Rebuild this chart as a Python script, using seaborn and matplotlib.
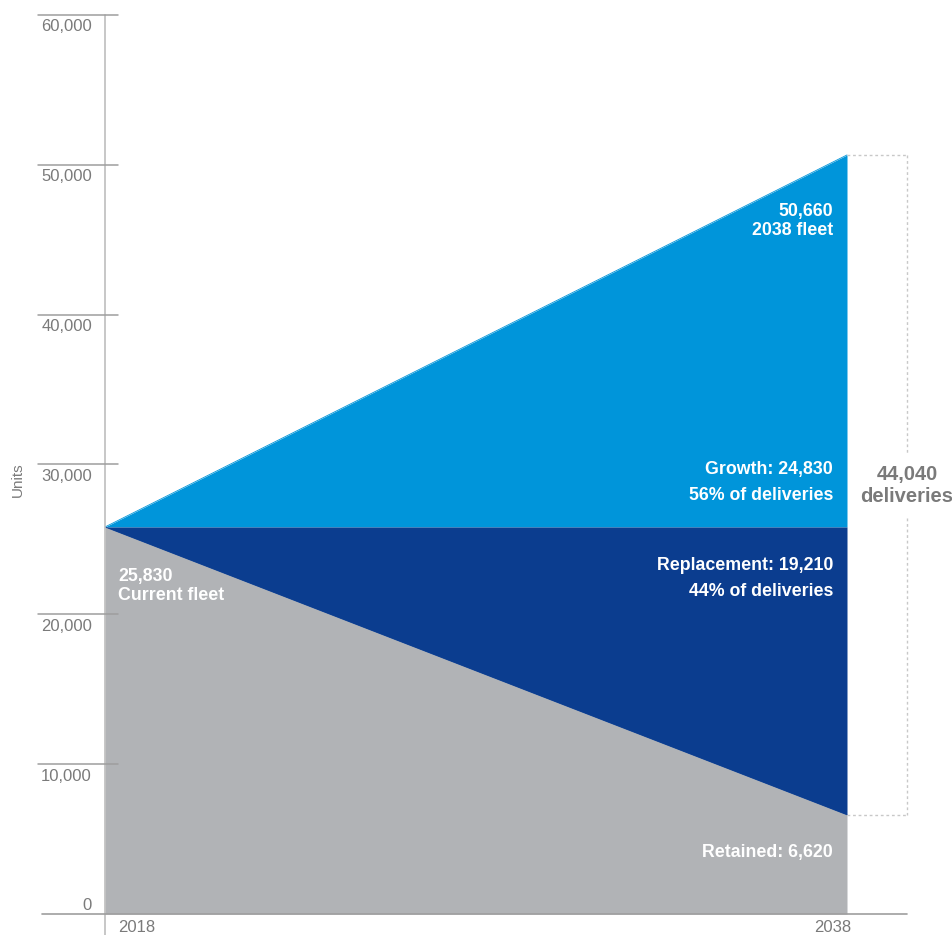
import matplotlib
matplotlib.use("Agg")
import matplotlib.pyplot as plt
import seaborn as sns
import pandas as pd

# -----------------------------
# FLEET DATA
# -----------------------------
years = [2018, 2038]
growth_top = [25830, 50660]
fleet_line = [25830, 25830]
retained_line = [25830, 6620]
y_ticks = [0, 10000, 20000, 30000, 40000, 50000, 60000]

light_blue = "#0095DA"
dark_blue = "#0B3D8F"
grey = "#B1B3B6"
text_grey = "#7A7A7A"

sns.set_style("white")
plt.rcParams["font.family"] = ["Liberation Sans", "DejaVu Sans"]

fig = plt.figure(figsize=(9.52, 9.35), dpi=100)
ax = fig.add_axes([105 / 952, 21 / 935, 802 / 952, 899 / 935])

df = pd.DataFrame({"year": years, "top": growth_top, "mid": fleet_line, "low": retained_line})

# areas
ax.fill_between(df["year"], df["mid"], df["top"], color=light_blue, lw=0)
ax.fill_between(df["year"], df["low"], df["mid"], color=dark_blue, lw=0)
ax.fill_between(df["year"], 0, df["low"], color=grey, lw=0)
sns.lineplot(data=df, x="year", y="top", color=light_blue, lw=0.6, ax=ax)
sns.lineplot(data=df, x="year", y="low", color=dark_blue, lw=0.6, ax=ax)

x_right = 2018 + (907 - 105) / 37.1
ax.set_xlim(2018, x_right)
ax.set_ylim(0, 60000)
for s in ax.spines.values():
    s.set_visible(False)
ax.set_xticks([])
ax.set_yticks([])
ax.set_xlabel("")
ax.set_ylabel("")

axis_c = "#BDBDBD"
# vertical axis line and baseline
ax.plot([2018, 2018], [0, 60000], color=axis_c, lw=1.2, clip_on=False, zorder=5)
ax.plot([0, 0], [0, -1400], color=axis_c, lw=1.2, clip_on=False,
        transform=ax.get_yaxis_transform(), zorder=5)
ax.plot([-63 / 802, 1], [0, 0], color="#9E9E9E", lw=1.2, clip_on=False,
        transform=ax.get_yaxis_transform(), zorder=5)

# y tick lines and labels
for v in y_ticks:
    if v > 0:
        ax.plot([-67 / 802, 13 / 802], [v, v], color="#9E9E9E", lw=1.1,
                clip_on=False, transform=ax.get_yaxis_transform(), zorder=5)
        ax.text(-13 / 802, v - 800, f"{v:,}", ha="right", va="center",
                fontsize=12, color=text_grey, transform=ax.get_yaxis_transform())
    else:
        ax.text(-13 / 802, 600, "0", ha="right", va="center",
                fontsize=12, color=text_grey, transform=ax.get_yaxis_transform())

fig.text(18 / 952, 1 - 480 / 935, "Units", rotation=90, ha="center", va="center",
         fontsize=11, color=text_grey)

# x labels
fig.text(118 / 952, 1 - 928 / 935, "2018", ha="left", va="center", fontsize=12, color=text_grey)
fig.text(833 / 952, 1 - 928 / 935, "2038", ha="center", va="center", fontsize=12, color=text_grey)


def py(p):
    return (914 - p) * 60000 / 899


x_txt = 2018 + (833 - 105) / 37.1
white = dict(color="white", fontsize=12.8, fontweight="bold")
ax.text(x_txt, py(212), "50,660", ha="right", va="center", **white)
ax.text(x_txt, py(231), "2038 fleet", ha="right", va="center", **white)
ax.text(x_txt, py(470), "Growth: 24,830", ha="right", va="center", **white)
ax.text(x_txt, py(496), "56% of deliveries", ha="right", va="center", **white)
ax.text(x_txt, py(566), "Replacement: 19,210", ha="right", va="center", **white)
ax.text(x_txt, py(592), "44% of deliveries", ha="right", va="center", **white)
ax.text(x_txt, py(852), "Retained: 6,620", ha="right", va="center", **white)
x_left = 2018 + (118 - 105) / 37.1
ax.text(x_left, py(576), "25,830", ha="left", va="center", **white)
ax.text(x_left, py(595), "Current fleet", ha="left", va="center", **white)

# deliveries bracket
br = dict(color="#C8C8C8", lw=1, ls=(0, (2, 2)), clip_on=False)
ax.plot([2038, x_right], [50660, 50660], **br)
ax.plot([x_right, x_right], [50660, py(455)], **br)
ax.plot([x_right, x_right], [py(518), 6620], **br)
ax.plot([2038, x_right], [6620, 6620], **br)
ax.text(x_right, py(475), "44,040", ha="center", va="center", fontsize=14.5,
        fontweight="bold", color=text_grey, clip_on=False)
ax.text(x_right, py(497), "deliveries", ha="center", va="center", fontsize=14.5,
        fontweight="bold", color=text_grey, clip_on=False)

fig.savefig("out.png", dpi=100)
